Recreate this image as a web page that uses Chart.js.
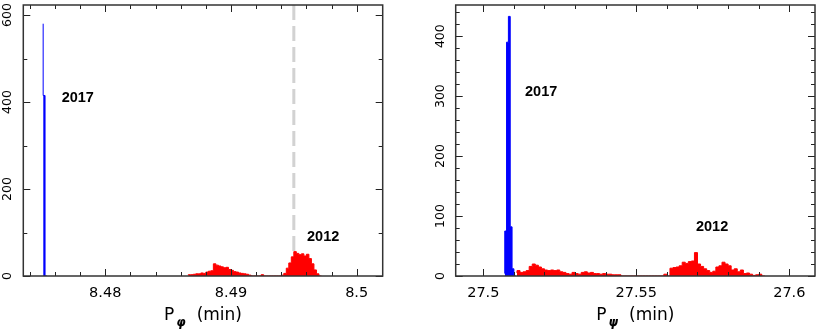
<!DOCTYPE html>
<html>
<head>
<meta charset="utf-8">
<script src="https://cdn.jsdelivr.net/npm/chart.js@4.4.0/dist/chart.umd.min.js"></script>
<style>
html,body{margin:0;padding:0;background:#fff;}
#wrap{display:flex;width:817px;height:336px;}
canvas{display:block;}
</style>
</head>
<body>
<div id="wrap"><canvas id="c1" width="410" height="336"></canvas><canvas id="c2" width="407" height="336"></canvas></div>
<script>
// ---------------- DATA ----------------
// Left panel: P_phi histogram
const phiBlueStart = 8.47506;
const phiBlueWidth = 0.00015;
const phiBlueCounts = [580, 415];

const phiRedStart = 8.4866;
const phiRedWidth = 0.0002;
const phiRedCounts = [
  2,3,3,4,5,5,7,6,9,11,12,28,25,23,21,19,20,15,13,10,9,7,6,5,4,2,
  0,0,0,0,3,0,0,0,0,0,0,0,
  2,6,18,30,44,56,52,49,51,46,50,40,28,14,5
];
const phiXRange = [8.47348, 8.50207];
const phiYRange = [0, 623];
const phiXTicks = [8.48, 8.49, 8.5];
const phiXTickLabels = ['8.48', '8.49', '8.5'];
const phiYTicks = [0, 200, 400, 600];
const phiYTickLabels = ['0', '200', '400', '600'];
const phiDashedAt = 8.495;
const phiNotes = [{text: '2017', x: 8.47653, y: 410}, {text: '2012', x: 8.49605, y: 90}];

// Right panel: P_psi histogram
const psiBlueStart = 27.5070;
const psiBlueWidth = 0.0006;
const psiBlueCounts = [4, 75, 390, 433, 82, 12];

const psiRedStart = 27.511;
const psiRedWidth = 0.001;
const psiRedCounts = [
  5,9,6,7,9,16,20,18,15,12,10,9,10,9,10,7,6,4,3,6,4,3,6,7,5,6,4,4,3,4,3,3,2,2,2,
  0,0,0,0,0,0,0,0,0,0,0,0,0,0,
  3,0,
  13,14,15,17,23,21,24,25,39,20,16,12,9,6,8,15,17,23,20,17,10,12,7,10,4,5,3,1,2,3
];
const psiXRange = [27.49098, 27.6084];
const psiYRange = [0, 452];
const psiXTicks = [27.5, 27.55, 27.6];
const psiXTickLabels = ['27.5', '27.55', '27.6'];
const psiYTicks = [0, 100, 200, 300, 400];
const psiYTickLabels = ['0', '100', '200', '300', '400'];
const psiNotes = [{text: '2017', x: 27.51363, y: 307}, {text: '2012', x: 27.5695, y: 81}];

// ---------------- helpers ----------------
function histPoints(start, width, counts) {
  const pts = counts.map((c, i) => ({x: +(start + i * width).toFixed(6), y: c}));
  pts.push({x: +(start + counts.length * width).toFixed(6), y: 0});
  return pts;
}
function stepValues(min, max, step) {
  const out = [];
  const i0 = Math.ceil(min / step - 1e-9), i1 = Math.floor(max / step + 1e-9);
  for (let i = i0; i <= i1; i++) out.push(+(i * step).toFixed(6));
  return out;
}

function decorPlugin(o) {
  return {
    id: 'decor',
    beforeDatasetsDraw(chart) {
      if (o.dashAt == null) return;
      const {ctx, chartArea: a, scales: {x}} = chart;
      const px = x.getPixelForValue(o.dashAt);
      ctx.save();
      ctx.strokeStyle = '#d2d2d2';
      ctx.lineWidth = 3;
      ctx.setLineDash([15, 6]);
      ctx.beginPath();
      ctx.moveTo(px, a.top);
      ctx.lineTo(px, a.bottom);
      ctx.stroke();
      ctx.restore();
    },
    afterDatasetsDraw(chart) {
      const {ctx, chartArea: a, scales: {x, y}} = chart;
      ctx.save();
      ctx.strokeStyle = '#222';
      ctx.lineWidth = 1;
      ctx.beginPath();
      const xt = (vals, len) => vals.forEach(v => {
        const px = Math.round(x.getPixelForValue(v)) + 0.5;
        ctx.moveTo(px, a.bottom); ctx.lineTo(px, a.bottom - len);
        ctx.moveTo(px, a.top); ctx.lineTo(px, a.top + len);
      });
      const yt = (vals, len) => vals.forEach(v => {
        const py = Math.round(y.getPixelForValue(v)) + 0.5;
        ctx.moveTo(a.left, py); ctx.lineTo(a.left + len, py);
        ctx.moveTo(a.right, py); ctx.lineTo(a.right - len, py);
      });
      xt(stepValues(x.min, x.max, o.xMinorStep), 4);
      xt(o.xTicks, 7);
      yt(stepValues(y.min, y.max, o.yMinorStep), 4);
      yt(o.yTicks, 7);
      ctx.stroke();
      ctx.strokeStyle = '#333';
      ctx.lineWidth = 1.5;
      ctx.strokeRect(a.left, a.top, a.right - a.left, a.bottom - a.top);

      // annotations
      ctx.fillStyle = '#000';
      ctx.font = 'bold 14.5px "Liberation Sans", Arial, sans-serif';
      ctx.textAlign = 'left';
      ctx.textBaseline = 'middle';
      o.notes.forEach(n => ctx.fillText(n.text, x.getPixelForValue(n.x), y.getPixelForValue(n.y)));

      // axis title  P_sub (min)
      const big = '17px "DejaVu Sans", sans-serif';
      const small = 'italic bold 12px "DejaVu Sans", sans-serif';
      ctx.textBaseline = 'alphabetic';
      ctx.font = big; const wP = ctx.measureText('P').width; const wM = ctx.measureText('(min)').width;
      ctx.font = small; const wS = ctx.measureText(o.sub).width;
      const g1 = 2, g2 = 11;
      let x0 = (a.left + a.right) / 2 - (wP + g1 + wS + g2 + wM) / 2;
      ctx.font = big; ctx.fillText('P', x0, 320);
      ctx.font = small; ctx.fillText(o.sub, x0 + wP + g1, 326);
      ctx.font = big; ctx.fillText('(min)', x0 + wP + g1 + wS + g2, 320);
      ctx.restore();
    }
  };
}

function makeChart(id, o) {
  const ds = (pts, color) => ({
    data: pts, borderColor: color, backgroundColor: color, borderWidth: 1,
    fill: 'origin', stepped: 'after', pointRadius: 0, tension: 0
  });
  return new Chart(document.getElementById(id), {
    type: 'line',
    data: {datasets: [ds(o.red, '#ff0000'), ds(o.blue, '#0000ff')]},
    options: {
      responsive: false, animation: false, devicePixelRatio: 1,
      layout: {padding: {top: 5, right: o.padRight, left: 0, bottom: 0}},
      plugins: {legend: {display: false}, tooltip: {enabled: false}},
      scales: {
        x: {
          type: 'linear', min: o.xRange[0], max: o.xRange[1],
          grid: {display: false, drawTicks: false}, border: {display: false},
          afterBuildTicks: s => { s.ticks = o.xTicks.map(v => ({value: v})); },
          afterFit: s => { s.height = 60; s.paddingLeft = 0; s.paddingRight = 0; },
          ticks: {
            autoSkip: false, minRotation: 0, maxRotation: 0, padding: 9, color: '#000',
            font: {family: 'DejaVu Sans', size: 14.5},
            callback: (v, i) => o.xLabels[i]
          }
        },
        y: {
          type: 'linear', min: o.yRange[0], max: o.yRange[1],
          grid: {display: false, drawTicks: false}, border: {display: false},
          afterBuildTicks: s => { s.ticks = o.yTicks.map(v => ({value: v})); },
          afterFit: s => { s.width = o.yWidth; s.paddingTop = 0; s.paddingBottom = 0; },
          ticks: {
            autoSkip: false, minRotation: 90, maxRotation: 90, crossAlign: 'center',
            padding: o.yPad, color: '#000',
            font: {family: 'DejaVu Sans', size: 12.5},
            callback: (v, i) => o.yLabels[i]
          }
        }
      }
    },
    plugins: [decorPlugin(o)]
  });
}

makeChart('c1', {
  red: histPoints(phiRedStart, phiRedWidth, phiRedCounts),
  blue: histPoints(phiBlueStart, phiBlueWidth, phiBlueCounts),
  xRange: phiXRange, yRange: phiYRange,
  xTicks: phiXTicks, xLabels: phiXTickLabels, yTicks: phiYTicks, yLabels: phiYTickLabels,
  xMinorStep: 0.002, yMinorStep: 100,
  padRight: 27.3, yWidth: 23.3, yPad: 4,
  dashAt: phiDashedAt, notes: phiNotes, sub: 'φ'
});
makeChart('c2', {
  red: histPoints(psiRedStart, psiRedWidth, psiRedCounts),
  blue: histPoints(psiBlueStart, psiBlueWidth, psiBlueCounts),
  xRange: psiXRange, yRange: psiYRange,
  xTicks: psiXTicks, xLabels: psiXTickLabels, yTicks: psiYTicks, yLabels: psiYTickLabels,
  xMinorStep: 0.01, yMinorStep: 20,
  padRight: 2, yWidth: 45.7, yPad: 3,
  dashAt: null, notes: psiNotes, sub: 'ψ'
});
</script>
</body>
</html>
